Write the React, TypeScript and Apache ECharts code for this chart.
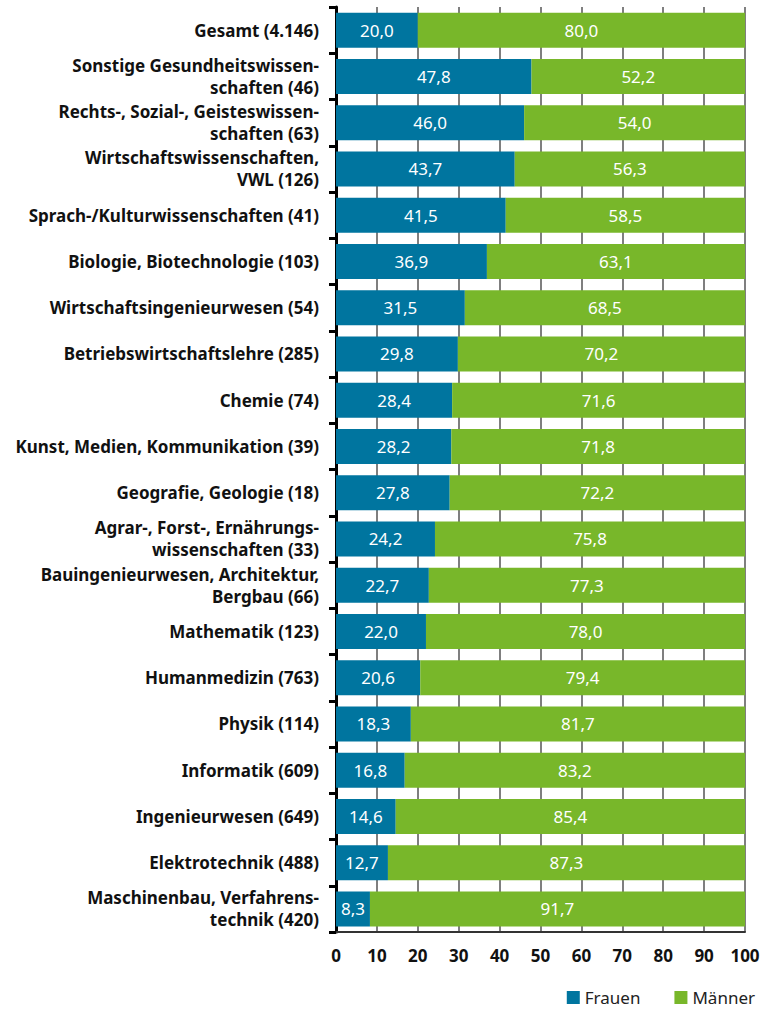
import React, { useEffect, useRef } from "react";
import * as echarts from "echarts";

const categories = [
  "Gesamt (4.146)",
  "Sonstige Gesundheitswissen-\nschaften (46)",
  "Rechts-, Sozial-, Geisteswissen-\nschaften (63)",
  "Wirtschaftswissenschaften,\nVWL (126)",
  "Sprach-/Kulturwissenschaften (41)",
  "Biologie, Biotechnologie (103)",
  "Wirtschaftsingenieurwesen (54)",
  "Betriebswirtschaftslehre (285)",
  "Chemie (74)",
  "Kunst, Medien, Kommunikation (39)",
  "Geografie, Geologie (18)",
  "Agrar-, Forst-, Ernährungs-\nwissenschaften (33)",
  "Bauingenieurwesen, Architektur,\nBergbau (66)",
  "Mathematik (123)",
  "Humanmedizin (763)",
  "Physik (114)",
  "Informatik (609)",
  "Ingenieurwesen (649)",
  "Elektrotechnik (488)",
  "Maschinenbau, Verfahrens-\ntechnik (420)",
];

const frauen = [20.0, 47.8, 46.0, 43.7, 41.5, 36.9, 31.5, 29.8, 28.4, 28.2, 27.8, 24.2, 22.7, 22.0, 20.6, 18.3, 16.8, 14.6, 12.7, 8.3];
const maenner = [80.0, 52.2, 54.0, 56.3, 58.5, 63.1, 68.5, 70.2, 71.6, 71.8, 72.2, 75.8, 77.3, 78.0, 79.4, 81.7, 83.2, 85.4, 87.3, 91.7];

const FONT = "'Noto Sans', sans-serif";
const BLUE = "#00759f";
const GREEN = "#78b72a";

export default function App() {
  const ref = useRef<HTMLDivElement>(null);
  useEffect(() => {
    if (!ref.current) return;
    const chart = echarts.init(ref.current, undefined, { renderer: "svg" });
    const fmt = (p: any) => Number(p.value).toFixed(1).replace(".", ",");
    chart.setOption({
      animation: false,
      textStyle: { fontFamily: FONT },
      grid: { left: 336, right: 18, top: 7, bottom: 80, containLabel: false },
      legend: {
        right: 3,
        bottom: 1,
        itemWidth: 13,
        itemHeight: 13,
        itemGap: 34,
        icon: "rect",
        textStyle: { fontFamily: FONT, fontSize: 17, color: "#222" },
        data: ["Frauen", "Männer"],
      },
      xAxis: {
        type: "value",
        min: 0,
        max: 100,
        interval: 10,
        axisLine: { show: true, lineStyle: { color: "#333", width: 2 } },
        axisTick: { show: false },
        splitLine: { show: true, lineStyle: { color: "#555", width: 1.5 } },
        axisLabel: {
          fontFamily: FONT,
          fontWeight: "bold",
          fontSize: 17,
          color: "#111",
          margin: 15,
        },
      },
      yAxis: {
        type: "category",
        inverse: true,
        data: categories,
        axisLine: { show: true, lineStyle: { color: "#000", width: 3 } },
        axisTick: { show: true, length: 7, lineStyle: { color: "#000", width: 3 } },
        axisLabel: {
          fontFamily: FONT,
          fontWeight: "bold",
          fontSize: 17,
          lineHeight: 22,
          color: "#111",
          margin: 17,
          align: "right",
        },
      },
      series: [
        {
          name: "Frauen",
          type: "bar",
          stack: "s",
          data: frauen,
          barWidth: 35,
          itemStyle: { color: BLUE },
          label: { show: true, position: "inside", color: "#fff", fontSize: 17, fontFamily: FONT, formatter: fmt },
        },
        {
          name: "Männer",
          type: "bar",
          stack: "s",
          data: maenner,
          barWidth: 35,
          itemStyle: { color: GREEN },
          label: { show: true, position: "inside", color: "#fff", fontSize: 17, fontFamily: FONT, formatter: fmt },
        },
      ],
    });
    return () => chart.dispose();
  }, []);
  return <div ref={ref} style={{ position: "absolute", left: 0, top: 0, width: 763, height: 1012 }} />;
}
